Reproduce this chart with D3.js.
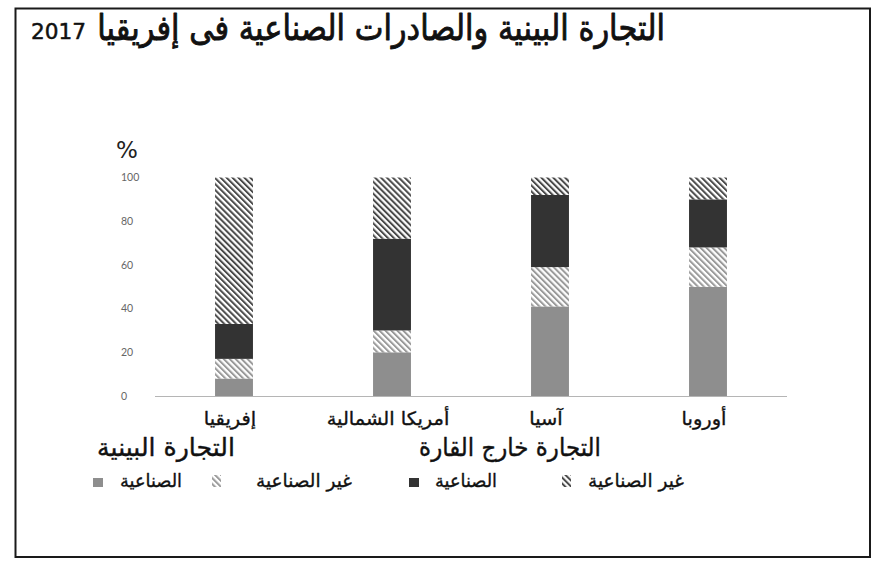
<!DOCTYPE html>
<html>
<head>
<meta charset="utf-8">
<script src="https://cdn.jsdelivr.net/npm/d3@7"></script>
<style>
  html, body { margin: 0; padding: 0; background: #fff; }
  svg { display: block; }
  .ar { font-family: "DejaVu Sans", sans-serif; }
</style>
</head>
<body>
<svg id="chart" width="890" height="570"></svg>
<script>
// ---- data ----
const titleText = "التجارة البينية والصادرات الصناعية فى إفريقيا";
const titleYear = "2017";
const categories = ["إفريقيا", "أمريكا الشمالية", "آسيا", "أوروبا"];
const intraIndustrial    = [8, 20, 41, 50];   // التجارة البينية - الصناعية
const intraNonIndustrial = [9, 10, 18, 18];   // التجارة البينية - غير الصناعية
const extraIndustrial    = [16, 42, 33, 22];  // التجارة خارج القارة - الصناعية
const extraNonIndustrial = [67, 28, 8, 10];   // التجارة خارج القارة - غير الصناعية
const yTicks = [0, 20, 40, 60, 80, 100];
const groupNames = ["التجارة البينية", "التجارة خارج القارة"];
const itemNames = ["الصناعية", "غير الصناعية"];
const unitLabel = "%";

// ---- setup ----
const svg = d3.select("#chart");
const W = 890, H = 570;
svg.append("rect").attr("x", 0).attr("y", 0).attr("width", W).attr("height", H).attr("fill", "#fff");

const defs = svg.append("defs");
function hatch(id, color, size, stroke) {
  const p = defs.append("pattern").attr("id", id)
    .attr("patternUnits", "userSpaceOnUse")
    .attr("width", size).attr("height", size)
    .attr("patternTransform", "rotate(-45)");
  p.append("rect").attr("width", size).attr("height", size).attr("fill", "#fff");
  p.append("rect").attr("x", 0).attr("y", 0).attr("width", stroke).attr("height", size).attr("fill", color);
}
hatch("hatchDark", "#4a4a4a", 4.2, 2.0);
hatch("hatchLight", "#9a9a9a", 4.2, 2.0);

const keys = ["intraInd", "intraNon", "extraInd", "extraNon"];
const fills = {
  intraInd: "#8e8e8e",
  intraNon: "url(#hatchLight)",
  extraInd: "#333333",
  extraNon: "url(#hatchDark)"
};
const rows = categories.map((c, i) => ({
  cat: c,
  intraInd: intraIndustrial[i],
  intraNon: intraNonIndustrial[i],
  extraInd: extraIndustrial[i],
  extraNon: extraNonIndustrial[i]
}));
const stacked = d3.stack().keys(keys)(rows);

const x = d3.scaleBand().domain(categories).range([155, 787]).paddingInner(0.76).paddingOuter(0.38);
const y = d3.scaleLinear().domain([0, 100]).range([396, 177.5]);

// frame
svg.append("rect").attr("x", 15.5).attr("y", 8.5).attr("width", 854.5).attr("height", 548.5)
  .attr("fill", "none").attr("stroke", "#1a1a1a").attr("stroke-width", 2);

// horizontally scale a text around its anchor so it covers a given width
function fitWidth(t, target) {
  const w = t.node().getComputedTextLength();
  const f = target / w;
  const ax = +t.attr("x"), ay = +t.attr("y");
  t.attr("transform", `translate(${ax},${ay}) scale(${f},1) translate(${-ax},${-ay})`);
}
// slightly heavier strokes, as the reference face is semi-bold
function heavy(t, sw) {
  t.attr("stroke", "#111").attr("stroke-width", sw).attr("stroke-linejoin", "round");
}

// title
const tAr = svg.append("text").attr("class", "ar")
  .attr("x", 665).attr("y", 40).attr("text-anchor", "end")
  .attr("font-size", 35).attr("fill", "#111").text(titleText);
fitWidth(tAr, 568);
heavy(tAr, 0.9);
const tYear = svg.append("text").attr("x", 31).attr("y", 39.5)
  .attr("font-family", "'DejaVu Sans', sans-serif").attr("font-size", 21)
  .attr("fill", "#111").text(titleYear);
fitWidth(tYear, 55);
heavy(tYear, 0.5);

// % label
svg.append("text").attr("x", 116).attr("y", 158)
  .attr("font-family", "'DejaVu Sans', sans-serif").attr("font-size", 23).attr("fill", "#222")
  .text(unitLabel);

// y axis labels
const yAxis = svg.append("g").attr("transform", "translate(155,0)")
  .call(d3.axisLeft(y).tickValues(yTicks).tickSize(0).tickFormat(d3.format("d")));
yAxis.select(".domain").remove();
yAxis.selectAll("text")
  .attr("x", -34).attr("text-anchor", "start")
  .attr("font-family", "Lato, 'Open Sans', sans-serif").attr("font-size", 10.5).attr("fill", "#666");

// bars
svg.append("g").selectAll("g").data(stacked).join("g")
  .attr("fill", d => fills[d.key])
  .selectAll("rect").data(d => d).join("rect")
  .attr("x", d => x(d.data.cat))
  .attr("width", x.bandwidth())
  .attr("y", d => y(d[1]))
  .attr("height", d => y(d[0]) - y(d[1]));

// baseline
svg.append("line").attr("x1", 155).attr("x2", 787).attr("y1", y(0) + 0.5).attr("y2", y(0) + 0.5)
  .attr("stroke", "#b5b5b5").attr("stroke-width", 1);

// category labels
svg.append("g").selectAll("text").data(categories).join("text")
  .attr("class", "ar")
  .attr("x", d => x(d) + x.bandwidth() / 2 - 4).attr("y", 425)
  .attr("text-anchor", "middle").attr("font-size", 18.5).attr("fill", "#111")
  .text(d => d)
  .each(function () {
    const t = d3.select(this);
    const w = t.node().getComputedTextLength();
    fitWidth(t, w * 1.05);
    heavy(t, 0.35);
  });

// legend headers
const h1 = svg.append("text").attr("class", "ar")
  .attr("x", 235).attr("y", 456).attr("text-anchor", "end")
  .attr("font-size", 25).attr("fill", "#111").text(groupNames[0]);
fitWidth(h1, 138);
heavy(h1, 0.4);
const h2 = svg.append("text").attr("class", "ar")
  .attr("x", 601).attr("y", 456).attr("text-anchor", "end")
  .attr("font-size", 25).attr("fill", "#111").text(groupNames[1]);
fitWidth(h2, 182);
heavy(h2, 0.4);

// legend items (RTL: text on right, swatch to its left)
const lg = svg.append("g");
function legendText(text, xr, width) {
  const t = lg.append("text").attr("class", "ar")
    .attr("x", xr).attr("y", 487).attr("text-anchor", "end")
    .attr("font-size", 18.5).attr("fill", "#111").text(text);
  fitWidth(t, width);
  heavy(t, 0.35);
}
function squareSwatch(xl, key) {
  lg.append("rect").attr("x", xl).attr("y", 478).attr("width", 10).attr("height", 9)
    .attr("fill", fills[key]);
}
function hatchSwatch(xl, key) {
  lg.append("rect").attr("x", xl).attr("y", 475).attr("width", 9).attr("height", 12)
    .attr("fill", fills[key]);
}
legendText(itemNames[1], 684, 96); hatchSwatch(562, "extraNon");
legendText(itemNames[0], 497, 62); squareSwatch(409, "extraInd");
legendText(itemNames[1], 352, 96); hatchSwatch(212, "intraNon");
legendText(itemNames[0], 182, 62); squareSwatch(93, "intraInd");
</script>
</body>
</html>
